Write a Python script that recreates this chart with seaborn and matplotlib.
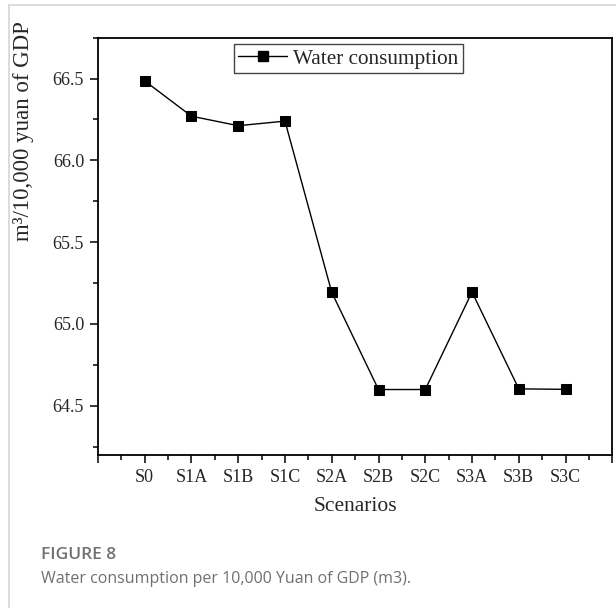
import matplotlib
matplotlib.use("Agg")
import matplotlib.pyplot as plt
import seaborn as sns
import pandas as pd
from matplotlib.ticker import FixedLocator, MultipleLocator, FormatStrFormatter
from matplotlib.lines import Line2D

scenarios = ["S0", "S1A", "S1B", "S1C", "S2A", "S2B", "S2C", "S3A", "S3B", "S3C"]
water = [66.486, 66.27, 66.212, 66.24, 65.193, 64.599, 64.599, 65.195, 64.603, 64.600]
series_name = "Water consumption"

df = pd.DataFrame({"pos": list(range(len(scenarios))), "value": water, "scenario": scenarios})

sns.set_style("ticks")
plt.rcParams["font.family"] = ["Liberation Serif", "DejaVu Serif"]

fig = plt.figure(figsize=(6.16, 6.08), dpi=100)
ax = fig.add_axes([0.159, 0.252, 0.835, 0.686])

sns.lineplot(data=df, x="pos", y="value", ax=ax, color="black", linewidth=1.0,
             marker="s", markersize=6.5, markeredgecolor="black", markerfacecolor="black",
             label=series_name, legend=False)

ax.set_xlim(-1, len(scenarios))
ax.set_ylim(64.2, 66.75)

major_x = list(range(-1, len(scenarios) + 1))
ax.xaxis.set_major_locator(FixedLocator(major_x))
ax.set_xticklabels([""] + scenarios + [""])
ax.xaxis.set_minor_locator(FixedLocator([p + 0.5 for p in range(-1, len(scenarios))]))
ax.yaxis.set_major_locator(MultipleLocator(0.5))
ax.yaxis.set_minor_locator(MultipleLocator(0.25))
ax.yaxis.set_major_formatter(FormatStrFormatter("%.1f"))

ax.tick_params(axis="both", which="major", direction="out", length=6, width=1.3,
               labelsize=13, pad=4, top=False, right=False)
ax.tick_params(axis="both", which="minor", direction="out", length=3.5, width=1.3,
               top=False, right=False)
for s in ax.spines.values():
    s.set_linewidth(1.3)
    s.set_color("black")

ax.set_xlabel("Scenarios", fontsize=15.5, labelpad=8)
ax.set_ylabel("m³/10,000 yuan of GDP", fontsize=16.5)
ax.yaxis.set_label_coords(-0.125, 0.775)

handle = Line2D([], [], color="black", linewidth=1.0, marker="s", markersize=6.5)
leg = ax.legend([handle], [series_name], loc="upper center", bbox_to_anchor=(0.487, 0.985),
                borderaxespad=0, fontsize=15.3, frameon=True, fancybox=False,
                handlelength=2.3, handletextpad=0.3, borderpad=0.22, framealpha=1)
leg.get_frame().set_edgecolor("#444444")
leg.get_frame().set_linewidth(1.0)

# journal-style frame and caption
fig.add_artist(Line2D([9 / 616, 1.0], [1 - 5 / 608, 1 - 5 / 608], transform=fig.transFigure,
                      color="#d6d6d6", linewidth=1.2))
fig.add_artist(Line2D([9 / 616, 9 / 616], [0, 1 - 5 / 608], transform=fig.transFigure,
                      color="#d6d6d6", linewidth=1.2))
fig.text(41 / 616, 1 - 555 / 608, "FIGURE 8", family=["Open Sans", "DejaVu Sans"],
         fontsize=12.5, fontweight="semibold", color="#707070", va="center", ha="left")
fig.text(41 / 616, 1 - 579 / 608, "Water consumption per 10,000 Yuan of GDP (m3).",
         family=["Open Sans", "DejaVu Sans"], fontsize=11.5, color="#707070",
         va="center", ha="left")

fig.savefig("out.png", dpi=100)
